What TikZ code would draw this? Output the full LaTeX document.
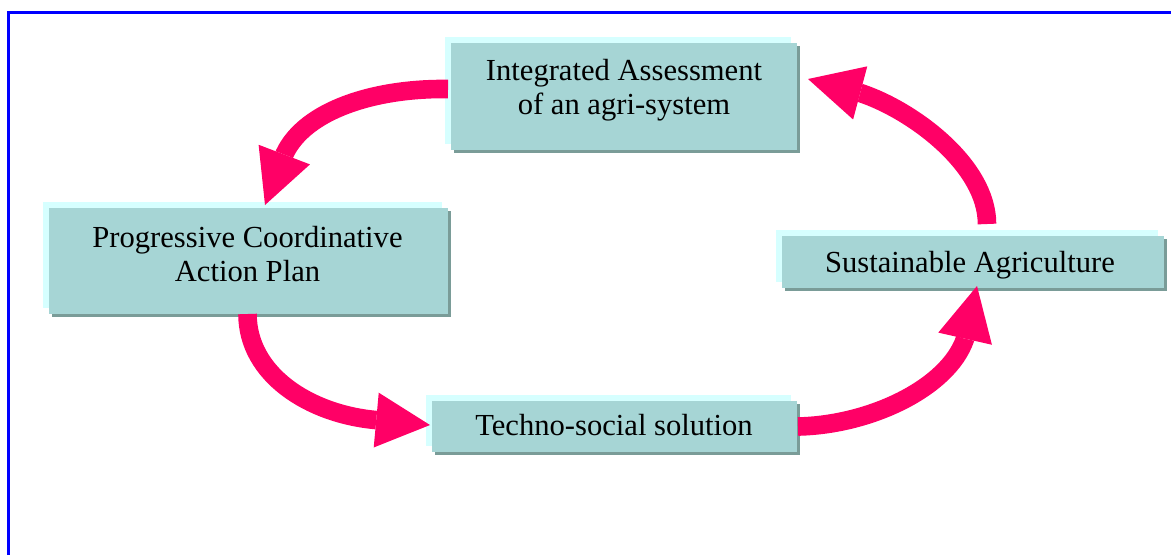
\documentclass[tikz,border=0pt]{standalone}
\usepackage{fontspec}
\setmainfont{Liberation Serif}
\usetikzlibrary{arrows.meta,shadows}
\definecolor{boxfill}{RGB}{166,213,213}
\definecolor{boxhi}{RGB}{214,255,255}
\definecolor{boxsh}{RGB}{122,156,152}
\definecolor{arr}{RGB}{255,0,102}
\definecolor{frameblue}{RGB}{0,0,255}
\begin{document}
\begin{tikzpicture}[x=0.5pt,y=-0.5pt,
  box/.style={fill=boxfill, inner sep=0pt, outer sep=0pt,
    general shadow={fill=boxhi, shadow xshift=-3pt, shadow yshift=3pt},
    general shadow={fill=boxsh, shadow xshift=1.5pt, shadow yshift=-1.5pt}},
  lbl/.style={font=\fontsize{15.3pt}{17pt}\selectfont, align=center, inner sep=0pt},
  flow/.style={draw=arr, line width=9.3pt, line join=round,
    -{Triangle[length=27pt, width=27.5pt, line width=0pt]}}]
\useasboundingbox (0,0) rectangle (1171,554);
\clip (0,0) rectangle (1171,554);
% frame
\draw[frameblue, line width=1.2pt] (8.5,12.5) rectangle (1300,700);
% boxes
\node[box, minimum width=173pt, minimum height=53.5pt] (b1) at (624,96.5) {};
\node[box, minimum width=199.5pt, minimum height=53pt] (b2) at (248.5,261) {};
\node[box, minimum width=191pt, minimum height=26pt] (b3) at (973,262) {};
\node[box, minimum width=182.5pt, minimum height=25.5pt] (b4) at (614.5,426.5) {};
% labels
\node[lbl] (t1) at (624,90) {Integrated Assessment\\of an agri-system};
\node[lbl] (t2) at (247.5,254) {Progressive Coordinative\\Action Plan};
\node[lbl, anchor=base] (t3) at (970,272) {Sustainable Agriculture};
\node[lbl, anchor=base] (t4) at (614,435) {Techno-social solution};
% arrow head bases
\coordinate (h1) at (284.5,154);
\coordinate (h2) at (375.5,420);
\coordinate (h3) at (965,339);
\coordinate (h4) at (860.5,93);
% arrows
\draw[flow] ([xshift=-1.5pt,yshift=3.75pt]b1.west) .. controls (375,88) and (305,110) .. (h1) -- (265,205);
\draw[flow] ([xshift=-0.5pt]b2.south) .. controls (247.5,375) and (310,414) .. (h2) -- (430,425);
\draw[flow] ([xshift=0.5pt]b4.east) .. controls (870,425) and (948,388) .. (h3) -- (977,286);
\draw[flow] ([xshift=7pt,yshift=6pt]b3.north) .. controls (987,165) and (912,110) .. (h4) -- (808,79);
\end{tikzpicture}
\end{document}
